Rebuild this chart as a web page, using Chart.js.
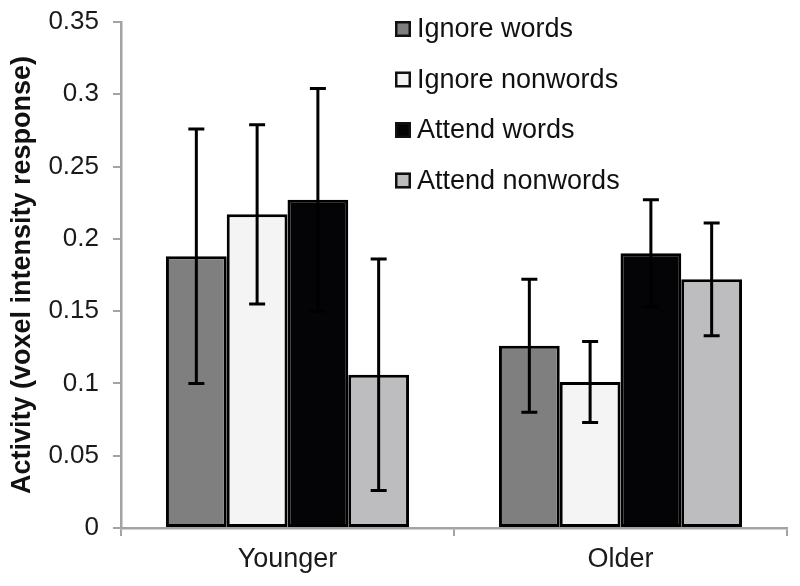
<!DOCTYPE html>
<html>
<head>
<meta charset="utf-8">
<script src="https://cdn.jsdelivr.net/npm/chart.js@4/dist/chart.umd.min.js"></script>
<style>
  html, body { margin: 0; padding: 0; background: #ffffff; }
  #wrap { width: 800px; height: 586px; }
</style>
</head>
<body>
<div id="wrap"><canvas id="c" width="800" height="586"></canvas></div>
<script>
// ---- data ----
const categories = ["Younger", "Older"];
const seriesNames = ["Ignore words", "Ignore nonwords", "Attend words", "Attend nonwords"];
const ignoreWords = [0.188, 0.126];
const ignoreNonwords = [0.217, 0.101];
const attendWords = [0.227, 0.190];
const attendNonwords = [0.106, 0.172];
const ignoreWordsErr = [0.088, 0.046];
const ignoreNonwordsErr = [0.062, 0.028];
const attendWordsErr = [0.077, 0.037];
const attendNonwordsErr = [0.080, 0.039];
const yTickLabels = ["0", "0.05", "0.1", "0.15", "0.2", "0.25", "0.3", "0.35"];
const yTitle = "Activity (voxel intensity response)";

const fills = ["#7f7f7f", "#f4f4f4", "#040406", "#bdbdbf"];
const values = [ignoreWords, ignoreNonwords, attendWords, attendNonwords];
const errors = [ignoreWordsErr, ignoreNonwordsErr, attendWordsErr, attendNonwordsErr];
const FONT = "'Liberation Sans', Arial, Helvetica, sans-serif";
const AXIS = "#a3a3a3";

const datasets = seriesNames.map((name, i) => ({
  label: name,
  data: values[i],
  errors: errors[i],
  backgroundColor: fills[i],
  borderColor: "#000000",
  borderWidth: 3,
  borderSkipped: false,
  categoryPercentage: 0.73,
  barPercentage: 1.0
}));

const errorBarPlugin = {
  id: "errorBars",
  afterDatasetsDraw(chart) {
    const ctx = chart.ctx;
    const y = chart.scales.y;
    ctx.save();
    ctx.strokeStyle = "#000000";
    ctx.lineWidth = 3;
    chart.data.datasets.forEach((ds, di) => {
      const meta = chart.getDatasetMeta(di);
      meta.data.forEach((bar, j) => {
        const v = ds.data[j], e = ds.errors[j];
        const yt = y.getPixelForValue(v + e);
        const yb = y.getPixelForValue(v - e);
        const x = bar.x, cap = 8;
        ctx.beginPath();
        ctx.moveTo(x, yt); ctx.lineTo(x, yb);
        ctx.moveTo(x - cap, yt); ctx.lineTo(x + cap, yt);
        ctx.moveTo(x - cap, yb); ctx.lineTo(x + cap, yb);
        ctx.stroke();
      });
    });
    ctx.restore();
  }
};

const legendPlugin = {
  id: "insideLegend",
  afterDraw(chart) {
    const ctx = chart.ctx;
    const a = chart.chartArea;
    const x0 = a.left + 274;
    ctx.save();
    ctx.font = "27px " + FONT;
    ctx.textBaseline = "middle";
    ctx.textAlign = "left";
    chart.data.datasets.forEach((ds, i) => {
      const cy = a.top + 7 + i * 50.5;
      ctx.fillStyle = ds.backgroundColor;
      ctx.fillRect(x0, cy - 8, 16, 16);
      ctx.strokeStyle = "#111111";
      ctx.lineWidth = 2.5;
      ctx.strokeRect(x0 + 1.25, cy - 6.75, 13.5, 13.5);
      ctx.fillStyle = "#111111";
      ctx.fillText(ds.label, x0 + 22, cy + 1);
    });
    ctx.restore();
  }
};

new Chart(document.getElementById("c"), {
  type: "bar",
  data: { labels: categories, datasets: datasets },
  options: {
    responsive: false,
    animation: false,
    devicePixelRatio: 1,
    layout: { padding: { top: 22, right: 13, left: 0, bottom: 0 } },
    plugins: {
      legend: { display: false },
      tooltip: { enabled: false }
    },
    scales: {
      x: {
        grid: {
          display: true, offset: true, drawOnChartArea: false, drawTicks: true,
          tickLength: 8, color: AXIS, lineWidth: 2
        },
        border: { display: true, color: AXIS, width: 2.5 },
        ticks: {
          color: "#1a1a1a", padding: 7,
          font: { family: FONT, size: 27 }
        },
        afterFit(scale) { scale.height = 58; }
      },
      y: {
        min: 0, max: 0.35,
        ticks: {
          stepSize: 0.05, color: "#1a1a1a", padding: 14,
          font: { family: FONT, size: 26 },
          callback: (v, i) => yTickLabels[i]
        },
        grid: {
          display: true, drawOnChartArea: false, drawTicks: true,
          tickLength: 8, color: AXIS, lineWidth: 2
        },
        border: { display: true, color: AXIS, width: 2.5 },
        title: {
          display: true, text: yTitle, color: "#111111",
          font: { family: FONT, size: 27, weight: "bold" },
          padding: { top: 6, bottom: 0 }
        },
        afterFit(scale) {
          scale.width = 121;
          scale.paddingTop = 0;
          scale.paddingBottom = 0;
        }
      }
    }
  },
  plugins: [errorBarPlugin, legendPlugin]
});
</script>
</body>
</html>
